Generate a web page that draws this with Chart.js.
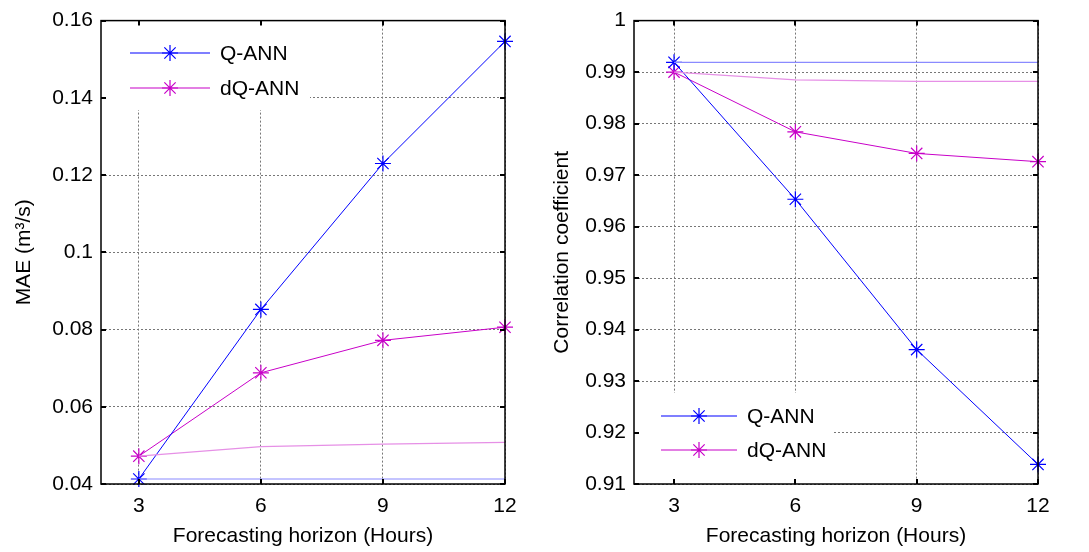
<!DOCTYPE html>
<html>
<head>
<meta charset="utf-8">
<script src="https://cdn.jsdelivr.net/npm/chart.js@4.4.1/dist/chart.umd.min.js"></script>
<style>
  body { margin: 0; background: #fff; }
  #wrap { display: flex; width: 1089px; height: 552px; }
</style>
</head>
<body>
<div id="wrap">
  <canvas id="chartMae" width="545" height="552"></canvas>
  <canvas id="chartCorr" width="544" height="552"></canvas>
</div>
<script>
// forecasting horizons (hours)
const hours = [3, 6, 9, 12];
const hourTicks = [3, 6, 9, 12];

// MAE (m3/s)
const maeQ = [0.0413, 0.0852, 0.1230, 0.1546];
const maeDQ = [0.0472, 0.0688, 0.0772, 0.0806];
const maeQFaint = [0.0413, 0.0413, 0.0413, 0.0413];
const maeDQFaint = [0.0472, 0.0497, 0.0503, 0.0508];
const maeTicks = [0.04, 0.06, 0.08, 0.10, 0.12, 0.14, 0.16];

// correlation coefficient
const corrQ = [0.9919, 0.9653, 0.9361, 0.9138];
const corrDQ = [0.9900, 0.9784, 0.9742, 0.9726];
const corrQFaint = [0.9919, 0.9919, 0.9919, 0.9919];
const corrDQFaint = [0.9900, 0.9885, 0.9882, 0.9882];
const corrTicks = [0.91, 0.92, 0.93, 0.94, 0.95, 0.96, 0.97, 0.98, 0.99, 1];

const seriesNames = ['Q-ANN', 'dQ-ANN'];
const BLUE = '#0000ff';
const MAG = '#c800c8';
const FONT = 'Liberation Sans, Arial, sans-serif';
const FS = 21;

function pts(vals) {
    return hours.map((h, i) => ({ x: h, y: vals[i] }));
}

function mainLine(label, vals, color) {
    return {
        label: label, data: pts(vals), borderColor: color, backgroundColor: color,
        borderWidth: 1, pointStyle: 'star', pointRadius: 8, pointBorderWidth: 1.2,
        pointBorderColor: color, pointBackgroundColor: color, tension: 0, clip: 10
    };
}

function faintLine(vals, color) {
    return {
        label: '', data: pts(vals), borderColor: color, backgroundColor: color,
        borderWidth: 1.2, pointRadius: 0, tension: 0
    };
}

// draws the box, inward tick marks and the legend
const framePlugin = {
    id: 'frame',
    beforeDatasetsDraw(chart, args, opts) {
        const ctx = chart.ctx;
        const lg = opts.legend;
        ctx.save();
        ctx.fillStyle = '#fff';
        ctx.fillRect(lg.x, lg.y, lg.w, lg.h);
        const colors = [BLUE, MAG];
        seriesNames.forEach((name, i) => {
            const yy = lg.rows[i];
            ctx.strokeStyle = colors[i];
            ctx.lineWidth = 1.2;
            ctx.beginPath();
            ctx.moveTo(lg.lineX0, yy);
            ctx.lineTo(lg.lineX1, yy);
            ctx.stroke();
            Chart.helpers.drawPoint(ctx, { pointStyle: 'star', radius: 8, borderWidth: 1.2 },
                (lg.lineX0 + lg.lineX1) / 2, yy);
            ctx.fillStyle = '#000';
            ctx.font = FS + 'px ' + FONT;
            ctx.textBaseline = 'middle';
            ctx.fillText(name, lg.textX, yy + 1);
        });
        ctx.restore();
    },
    afterDraw(chart) {
        const { ctx, chartArea: a, scales: { x, y } } = chart;
        ctx.save();
        ctx.strokeStyle = '#000';
        ctx.lineWidth = 1.5;
        ctx.strokeRect(a.left, a.top, a.right - a.left, a.bottom - a.top);
        ctx.lineWidth = 2;
        ctx.beginPath();
        y.ticks.forEach(t => {
            const py = Math.round(y.getPixelForValue(t.value));
            ctx.moveTo(a.left, py); ctx.lineTo(a.left + 5, py);
            ctx.moveTo(a.right, py); ctx.lineTo(a.right - 5, py);
        });
        x.ticks.forEach(t => {
            const px = Math.round(x.getPixelForValue(t.value));
            ctx.moveTo(px, a.bottom); ctx.lineTo(px, a.bottom - 5);
            ctx.moveTo(px, a.top); ctx.lineTo(px, a.top + 5);
        });
        ctx.stroke();
        ctx.restore();
    }
};

function makeChart(id, cfg) {
    const ctx = document.getElementById(id).getContext('2d');
    return new Chart(ctx, {
        type: 'line',
        data: { datasets: cfg.datasets },
        plugins: [framePlugin],
        options: {
            responsive: false,
            animation: false,
            layout: { padding: { top: 20, right: cfg.padRight, left: 0, bottom: 0 } },
            plugins: {
                legend: { display: false },
                tooltip: { enabled: false },
                frame: { legend: cfg.legend }
            },
            scales: {
                x: {
                    type: 'linear', min: cfg.xMin, max: 12,
                    afterBuildTicks: s => { s.ticks = hourTicks.map(v => ({ value: v })); },
                    afterFit: s => { s.height = 68; },
                    grid: { color: '#777', drawTicks: false },
                    border: { display: false, dash: [2, 2] },
                    ticks: { color: '#000', font: { size: FS, family: FONT }, padding: 10 },
                    title: {
                        display: true, text: 'Forecasting horizon (Hours)', color: '#000',
                        font: { size: FS, family: FONT }, padding: { top: 0, bottom: 3 }
                    }
                },
                y: {
                    min: cfg.yTicks[0], max: cfg.yTicks[cfg.yTicks.length - 1],
                    afterBuildTicks: s => { s.ticks = cfg.yTicks.map(v => ({ value: v })); },
                    afterFit: s => { s.width = cfg.yWidth; },
                    grid: { color: '#777', drawTicks: false },
                    border: { display: false, dash: [2, 2] },
                    ticks: {
                        color: '#000', font: { size: FS, family: FONT }, padding: 8,
                        callback: v => String(parseFloat(v.toFixed(3)))
                    },
                    title: {
                        display: true, text: cfg.yTitle, color: '#000',
                        font: { size: FS, family: FONT }, padding: { top: cfg.yTitlePad, bottom: 0 }
                    }
                }
            }
        }
    });
}

makeChart('chartMae', {
    datasets: [
        faintLine(maeQFaint, '#8a8aff'),
        faintLine(maeDQFaint, '#e690e6'),
        mainLine(seriesNames[0], maeQ, BLUE),
        mainLine(seriesNames[1], maeDQ, MAG)
    ],
    xMin: 2.07, yTicks: maeTicks, yWidth: 101, padRight: 40,
    yTitle: 'MAE (m³/s)', yTitlePad: 12,
    legend: { x: 102, y: 22, w: 208, h: 88, lineX0: 130, lineX1: 210, textX: 220, rows: [53, 88] }
});

makeChart('chartCorr', {
    datasets: [
        faintLine(corrQFaint, '#8a8aff'),
        faintLine(corrDQFaint, '#e690e6'),
        mainLine(seriesNames[0], corrQ, BLUE),
        mainLine(seriesNames[1], corrDQ, MAG)
    ],
    xMin: 2.01, yTicks: corrTicks, yWidth: 89, padRight: 51,
    yTitle: 'Correlation coefficient', yTitlePad: 5,
    legend: { x: 90, y: 393, w: 198, h: 88, lineX0: 116, lineX1: 192, textX: 202, rows: [416, 450] }
});
</script>
</body>
</html>
